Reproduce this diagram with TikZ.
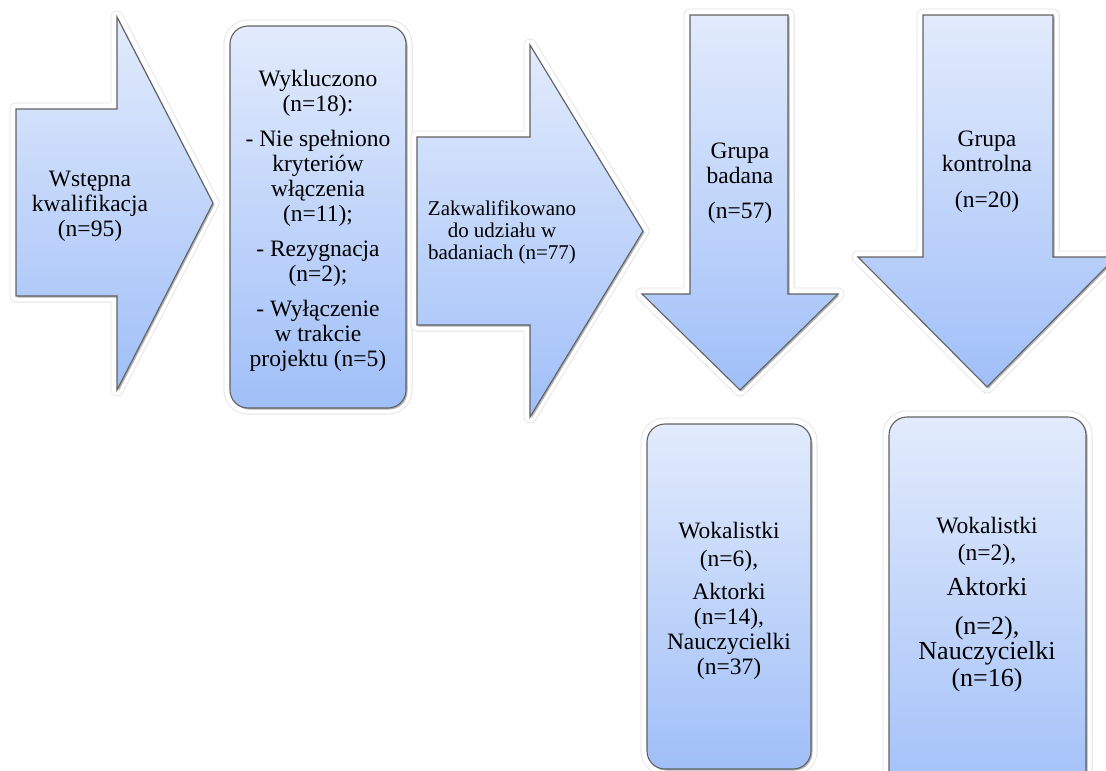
\documentclass[tikz,border=0pt]{standalone}
\usepackage{fontspec}
\setmainfont{Liberation Serif}
\definecolor{topc}{RGB}{226,235,252}
\definecolor{botc}{RGB}{160,191,248}
\begin{document}
\begin{tikzpicture}[x=1pt,y=-1pt,
  shp/.style={draw=black!62, line width=1.1pt, top color=topc, bottom color=botc,
     preaction={draw=black!12, line width=13pt, line join=round},
     preaction={draw=white, line width=11.4pt, line join=round},
     preaction={fill=black!30, transform canvas={shift={(1.5pt,-1.5pt)}}}},
  txt/.style={align=center, inner sep=0pt, font=\fontsize{23.5}{25}\selectfont}]
\useasboundingbox (0,0) rectangle (1106,771);
% shapes
\path[shp] (16,109) -- (117,109) -- (117,17) -- (213,203) -- (117,390) -- (117,296) -- (16,296) -- cycle;
\path[shp, rounded corners=18pt] (230,26) rectangle (406,408);
\path[shp] (417,137) -- (530,137) -- (530,45) -- (643,231) -- (530,417) -- (530,325) -- (417,325) -- cycle;
\path[shp] (690,15) -- (788,15) -- (788,294) -- (838,294) -- (740,390) -- (642,294) -- (690,294) -- cycle;
\path[shp] (923,15) -- (1053,15) -- (1053,257) -- (1116,257) -- (987,387) -- (858,257) -- (923,257) -- cycle;
\path[shp, rounded corners=18pt] (647,424) rectangle (811,769);
\path[shp, rounded corners=18pt] (889,417) rectangle (1086,810);
% texts
\node[txt] (t1) at (90,206.5) {Wstępna\\kwalifikacja\\(n=95)};
\node[txt] (t2) at (318,220.5) {Wykluczono\\(n=18):\\[10pt]- Nie spełniono\\kryteriów\\włączenia\\(n=11);\\[10pt]- Rezygnacja\\(n=2);\\[10pt]- Wyłączenie\\w trakcie\\projektu (n=5)};
\node[txt, font=\fontsize{21}{22}\selectfont] (t3) at (502,232) {Zakwalifikowano\\do udziału w\\badaniach (n=77)};
\node[txt] (t4) at (740,183) {Grupa\\badana\\[10pt](n=57)};
\node[txt] (t5) at (987,171.5) {Grupa\\kontrolna\\[11pt](n=20)};
\node[txt] (t6) at (729,600.5) {Wokalistki\\[3pt](n=6),\\[8pt]Aktorki\\(n=14),\\Nauczycielki\\(n=37)};
\node[txt] (t7) at (987,605) {Wokalistki\\[2pt](n=2),\\[10pt]{\fontsize{26}{27}\selectfont Aktorki}\\[14pt]{\fontsize{26}{27}\selectfont (n=2),}\\{\fontsize{26}{27}\selectfont Nauczycielki}\\[2pt]{\fontsize{26}{27}\selectfont (n=16)}};
\end{tikzpicture}
\end{document}
